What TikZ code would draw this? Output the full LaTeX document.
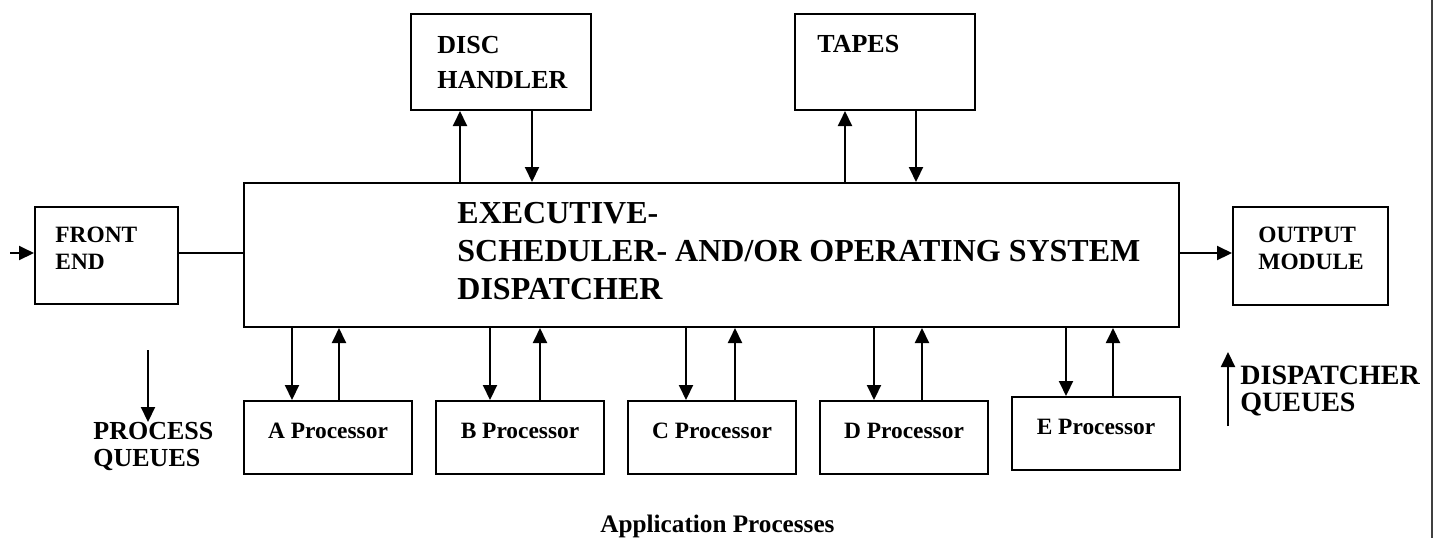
\documentclass[tikz,border=0pt]{standalone}
\usepackage{fontspec}
\setmainfont{Liberation Serif}
\usetikzlibrary{arrows.meta,positioning}

\begin{document}
\begin{tikzpicture}[
  x=0.5pt, y=-0.5pt,
  node distance=11pt,
  blk/.style={
    rectangle,
    draw,
    line width=1pt,
    inner sep=0pt
  },
  proc/.style={
    blk,
    minimum width=84pt,
    minimum height=36.5pt,
    text height=7.7pt,
    text depth=6.8pt,
    font=\bfseries\fontsize{11.7}{14}\selectfont
  },
  txt/.style={inner sep=0pt, align=left, anchor=north west},
  flow/.style={-{Triangle[length=7.5pt,width=7pt]}, line width=1pt}
]
\useasboundingbox (0,0) rectangle (1438,538);

% boxes
\node[blk, minimum width=467.5pt, minimum height=72pt] (main) at (711.5,255) {};
\node[blk, minimum width=71.5pt, minimum height=48.5pt] (fe) at (106.5,255.5) {};
\node[blk, minimum width=77.5pt, minimum height=49pt] (out) at (1310.5,256) {};
\node[blk, minimum width=90pt, minimum height=48pt] (disc) at (501,62) {};
\node[blk, minimum width=90pt, minimum height=48pt] (tapes) at (885,62) {};

\node[proc] (pa) at (328,437.5) {A Processor};
\node[proc, right=of pa] (pb) {B Processor};
\node[proc, right=of pb] (pc) {C Processor};
\node[proc, right=of pc] (pd) {D Processor};
\node[proc, right=of pd, yshift=2pt] (pe) {E Processor};

% texts
\node[txt, font=\bfseries\fontsize{16}{19}\selectfont] (maintxt) at (457,202)
  {EXECUTIVE-\\SCHEDULER- AND/OR OPERATING SYSTEM\\DISPATCHER};
\node[txt, font=\bfseries\fontsize{11.7}{13.5}\selectfont] (fetxt) at (55,227) {FRONT\\END};
\node[txt, font=\bfseries\fontsize{11.7}{13.5}\selectfont] (outtxt) at (1258,227) {OUTPUT\\MODULE};
\node[txt, font=\bfseries\fontsize{13}{17.5}\selectfont] (disctxt) at (437,36) {DISC\\HANDLER};
\node[txt, font=\bfseries\fontsize{13}{17.5}\selectfont] (tapetxt) at (817,35) {TAPES};
\node[txt, font=\bfseries\fontsize{13}{13.5}\selectfont] (pqtxt) at (93,422) {PROCESS\\QUEUES};
\node[txt, font=\bfseries\fontsize{14}{13.5}\selectfont] (dqtxt) at (1240,366) {DISPATCHER\\QUEUES};
\node[inner sep=0pt, anchor=base, font=\bfseries\fontsize{12.6}{15}\selectfont] (apptxt)
  at (717.5,532) {Application Processes};

% connectors
\coordinate (in) at (10,253);
\draw[flow] (in) -- (in -| fe.west);
\draw[line width=1pt] (fe.east |- in) -- (main.west |- in);
\draw[flow] (main.east |- in) -- (out.west |- in);

\draw[flow] (main.north -| 460,0) -- (disc.south -| 460,0);
\draw[flow] (disc.south -| 532,0) -- (main.north -| 532,0);
\draw[flow] (main.north -| 845,0) -- (tapes.south -| 845,0);
\draw[flow] (tapes.south -| 916,0) -- (main.north -| 916,0);

\foreach \p/\a/\b in {pa/292/339, pb/490/540, pc/686/735, pd/874/922, pe/1066/1113} {
  \draw[flow] (main.south -| \a,0) -- (\p.north -| \a,0);
  \draw[flow] (\p.north -| \b,0) -- (main.south -| \b,0);
}

\coordinate (pq) at (148,350);
\draw[flow] (pq) -- (pq |- pqtxt.north);
\coordinate (dq) at (1228,426);
\draw[flow] (dq) -- ++(0,-74);

\draw[line width=1pt, black!75] (1432,0) -- (1432,538);
\end{tikzpicture}
\end{document}
